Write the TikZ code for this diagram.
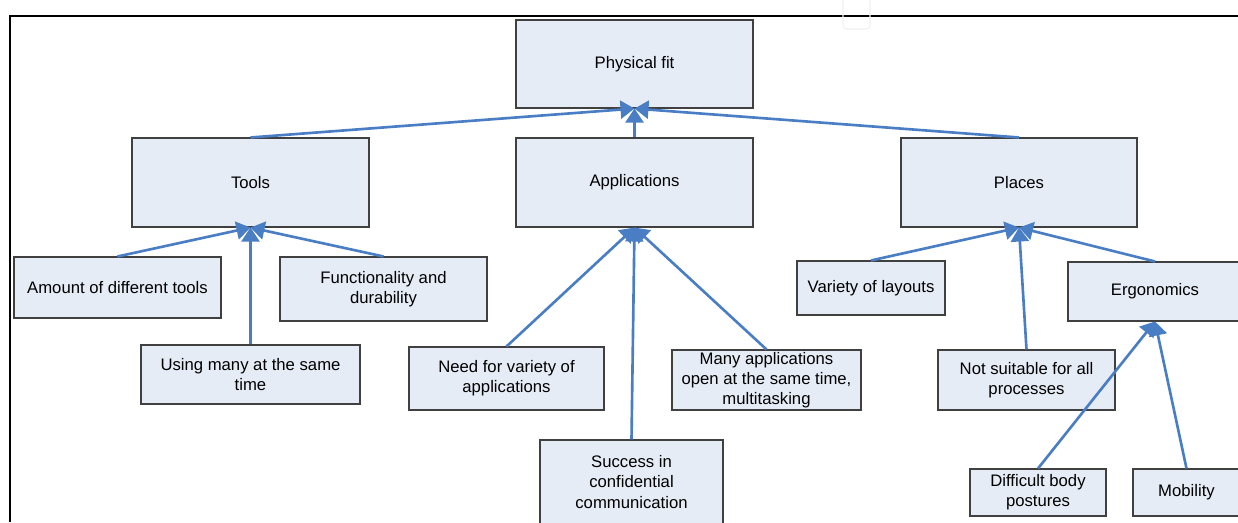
\documentclass[tikz,border=0pt]{standalone}
\usepackage{fontspec}
\setmainfont{Liberation Sans}
\usetikzlibrary{arrows.meta}
\definecolor{boxfill}{HTML}{E6ECF6}
\definecolor{boxline}{HTML}{404040}
\definecolor{linkblue}{HTML}{4A7EC4}
\tikzset{
  box/.style 2 args={draw=boxline, fill=boxfill, line width=0.6pt, align=center, inner sep=0pt,
    minimum width=#1*0.02cm, minimum height=#2*0.02cm, font=\fontsize{9.5}{11.4}\selectfont},
  link/.style={draw=linkblue, line width=1.5pt, -{Triangle[width=0.36cm,length=0.28cm]}},
}
\begin{document}
\begin{tikzpicture}[x=0.02cm, y=-0.02cm]
	\clip (0,0) rectangle (1238,522);
	% Frame
	\draw[line width=1.1pt] (10,522) -- (10,16) -- (1238,16);
	\draw[gray!12, line width=0.6pt, rounded corners=2pt] (843,-5) rectangle (870,29);
	% Top level
	\node[box={237}{88}] (pf) at (634.5,64) {Physical fit};
	\node[box={237}{89}] (tools) at (250.5,182.5) {Tools};
	\node[box={237}{89}] (apps) at (634.5,182.5) {Applications};
	\node[box={236}{89}] (places) at (1019,182.5) {Places};
	% Tools
	\node[box={207}{61}] (amount) at (117.5,287.5) {Amount of different tools};
	\node[box={207}{64}] (func) at (383.5,289) {Functionality and\\durability};
	\node[box={219}{59}] (using) at (250.5,374.5) {Using many at the same\\time};
	% Applications
	\node[box={195}{63}] (need) at (506.5,378.5) {Need for variety of\\applications};
	\node[box={189}{60}] (many) at (766.5,380) {Many applications\\open at the same time,\\multitasking};
	\node[box={183}{84}] (success) at (631.5,482) {Success in\\confidential\\communication};
	% Places
	\node[box={148}{54}] (variety) at (871,288) {Variety of layouts};
	\node[box={174}{59}] (ergo) at (1155,291.5) {Ergonomics};
	\node[box={177}{60}] (notsuit) at (1026.5,380) {Not suitable for all\\processes};
	\node[box={136}{47}] (difficult) at (1038,492.5) {Difficult body\\postures};
	\node[box={107}{47}] (mobility) at (1186.5,492.5) {Mobility};
	% Links
	\draw[link] (tools.north) -- (pf.south);
	\draw[link] (apps.north) -- (pf.south);
	\draw[link] (places.north) -- (pf.south);
	\draw[link] (amount.north) -- (tools.south);
	\draw[link] (func.north) -- (tools.south);
	\draw[link] (using.north) -- (tools.south);
	\draw[link] (need.north) -- (apps.south);
	\draw[link] (many.north) -- (apps.south);
	\draw[link] (success.north) -- (apps.south);
	\draw[link] (variety.north) -- (places.south);
	\draw[link] (ergo.north) -- (places.south);
	\draw[link] (notsuit.north) -- (places.south);
	\draw[link] (difficult.north) -- (ergo.south);
	\draw[link] (mobility.north) -- (ergo.south);
\end{tikzpicture}
\end{document}
